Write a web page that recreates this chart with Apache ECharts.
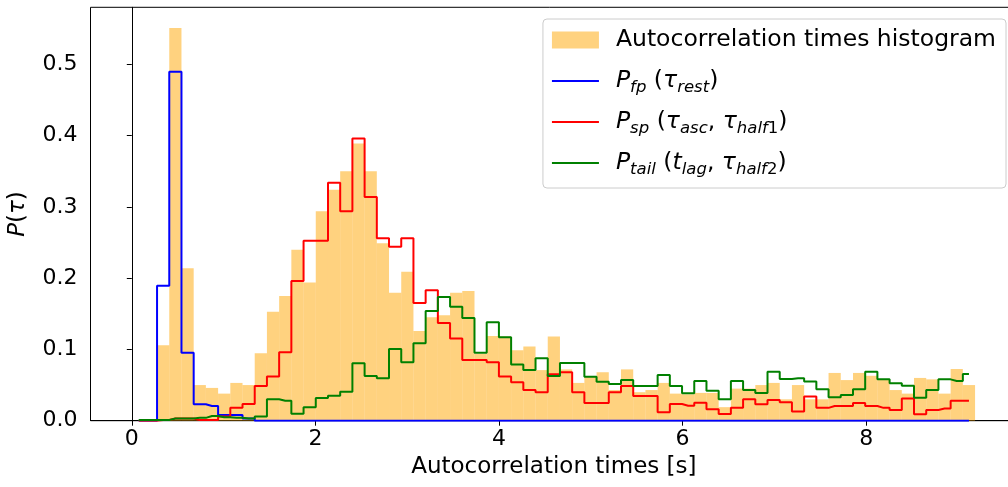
<!DOCTYPE html>
<html>
<head>
<meta charset="utf-8">
<script src="https://cdn.jsdelivr.net/npm/echarts@6/dist/echarts.min.js"></script>
<style>
html,body{margin:0;padding:0;background:#fff;}
#chart{width:1008px;height:487px;}
</style>
</head>
<body>
<div id="chart"></div>
<script>
// Histogram binning (bin edges = binStart + k*binWidth)
const binStart = 0.009;
const binWidth = 0.133;

// Autocorrelation times histogram (density per bin)
const histogram = [0, 0, 0.106, 0.551, 0.214, 0.050, 0.046, 0.038, 0.053, 0.050,
  0.0945, 0.153, 0.175, 0.240, 0.194, 0.294, 0.324, 0.350, 0.389, 0.350,
  0.249, 0.1795, 0.209, 0.126, 0.145, 0.148, 0.1795, 0.182, 0.094, 0.119,
  0.118, 0.099, 0.104, 0.071, 0.118, 0.072, 0.053, 0.062, 0.068, 0.043,
  0.072, 0.040, 0.043, 0.053, 0.038, 0.037, 0.039, 0.039, 0.019, 0.045,
  0.045, 0.050, 0.053, 0.030, 0.050, 0.030, 0.030, 0.067, 0.057, 0.067,
  0.063, 0.058, 0.043, 0.038, 0.060, 0.058, 0.038, 0.0725, 0.050];

// P_fp (tau_rest)
const pFp = [0, 0, 0.1894, 0.4895, 0.0954, 0.023, 0.0206, 0.008, 0.008, 0.003,
  0, 0, 0, 0, 0, 0, 0, 0, 0, 0,
  0, 0, 0, 0, 0, 0, 0, 0, 0, 0,
  0, 0, 0, 0, 0, 0, 0, 0, 0, 0,
  0, 0, 0, 0, 0, 0, 0, 0, 0, 0,
  0, 0, 0, 0, 0, 0, 0, 0, 0, 0,
  0, 0, 0, 0, 0, 0, 0, 0, 0];

// P_sp (tau_asc, tau_half1)
const pSp = [0, 0, 0.001, 0.003, 0.003, 0.001, 0.001, 0.006, 0.018, 0.0234,
  0.0487, 0.062, 0.096, 0.196, 0.2525, 0.2525, 0.334, 0.294, 0.396, 0.314,
  0.256, 0.244, 0.256, 0.165, 0.183, 0.137, 0.1155, 0.085, 0.085, 0.082,
  0.062, 0.054, 0.043, 0.040, 0.065, 0.068, 0.040, 0.025, 0.025, 0.040,
  0.0487, 0.0346, 0.0346, 0.012, 0.0234, 0.021, 0.0253, 0.016, 0.0094, 0.018,
  0.030, 0.023, 0.029, 0.026, 0.013, 0.034, 0.018, 0.0206, 0.0206, 0.025,
  0.0206, 0.018, 0.015, 0.031, 0.009, 0.015, 0.017, 0.028, 0.028];

// P_tail (t_lag, tau_half2)
const pTail = [0.001, 0.001, 0.001, 0.003, 0.003, 0.004, 0.0066, 0.0047, 0.004, 0.003,
  0.006, 0.030, 0.028, 0.0097, 0.019, 0.032, 0.035, 0.0407, 0.0805, 0.0627,
  0.0594, 0.1006, 0.082, 0.1085, 0.154, 0.1735, 0.160, 0.144, 0.0955, 0.138,
  0.117, 0.079, 0.071, 0.0875, 0.0627, 0.081, 0.081, 0.0617, 0.0547, 0.0515,
  0.057, 0.0487, 0.0487, 0.064, 0.0487, 0.0384, 0.0557, 0.042, 0.030, 0.0557,
  0.043, 0.039, 0.0687, 0.0585, 0.0595, 0.055, 0.044, 0.0328, 0.036, 0.044,
  0.0687, 0.058, 0.0524, 0.049, 0.0323, 0.043, 0.058, 0.0557, 0.0655];

const xTicks = [0, 2, 4, 6, 8];
const yTicks = [0, 0.1, 0.2, 0.3, 0.4, 0.5];

const xName = 'Autocorrelation times [s]';
const names = ['Autocorrelation times histogram', 'P_fp (τ_rest)', 'P_sp (τ_asc, τ_half1)', 'P_tail (t_lag, τ_half2)'];
const richLabels = {
  'Autocorrelation times histogram': 'Autocorrelation times histogram',
  'P_fp (τ_rest)': '{i|P}{s|fp} ({i|τ}{s|rest})',
  'P_sp (τ_asc, τ_half1)': '{i|P}{s|sp} ({i|τ}{s|asc}, {i|τ}{s|half}{n|1})',
  'P_tail (t_lag, τ_half2)': '{i|P}{s|tail} ({i|t}{s|lag}, {i|τ}{s|half}{n|2})'
};

const FONT = 'DejaVu Sans';
const histColor = 'rgba(255,165,0,0.5)';

const barData = histogram.map((v, k) => [binStart + k * binWidth, binStart + (k + 1) * binWidth, v]);
const stepData = arr => arr.map((v, k) => [binStart + (k + 0.5) * binWidth, v]);

const chart = echarts.init(document.getElementById('chart'), null, {renderer: 'canvas'});
chart.setOption({
  animation: false,
  backgroundColor: '#fff',
  grid: {left: 90.5, top: 7.3, width: 926.7, height: 413.4, show: true, borderColor: '#000', borderWidth: 1,
    backgroundColor: 'transparent', containLabel: false, outerBoundsMode: 'none'},
  xAxis: {
    type: 'value', min: -0.45, max: 9.645,
    name: xName, nameLocation: 'middle', nameGap: 35,
    nameTextStyle: {fontFamily: FONT, fontSize: 23, color: '#000'},
    axisLine: {show: true, lineStyle: {color: '#000', width: 1}},
    axisTick: {show: true, customValues: xTicks, length: 5, lineStyle: {color: '#000'}},
    axisLabel: {customValues: xTicks, fontFamily: FONT, fontSize: 22, color: '#000', margin: 8},
    splitLine: {show: false}
  },
  yAxis: {
    type: 'value', min: 0, max: 0.58,
    name: '{i|P}({i|τ})', nameLocation: 'middle', nameGap: 61, nameRotate: 90,
    nameTextStyle: {fontFamily: FONT, fontSize: 23, color: '#000',
      rich: {i: {fontFamily: FONT, fontSize: 23, fontStyle: 'italic', color: '#000'}}},
    axisLine: {show: true, lineStyle: {color: '#000', width: 1}},
    axisTick: {show: true, customValues: yTicks, length: 5, lineStyle: {color: '#000'}},
    axisLabel: {customValues: yTicks, fontFamily: FONT, fontSize: 22, color: '#000', margin: 13,
      formatter: v => v.toFixed(1)},
    splitLine: {show: false}
  },
  legend: {
    orient: 'vertical', right: 2, top: 19,
    padding: [6, 10, 10, 8], itemGap: 11,
    itemWidth: 47, itemHeight: 17,
    backgroundColor: 'rgba(255,255,255,0.8)', borderColor: '#cccccc', borderWidth: 1, borderRadius: 4,
    data: [
      {name: names[0], icon: 'rect'},
      {name: names[1], itemStyle: {opacity: 0}},
      {name: names[2], itemStyle: {opacity: 0}},
      {name: names[3], itemStyle: {opacity: 0}}
    ],
    formatter: n => richLabels[n],
    textStyle: {
      fontFamily: FONT, fontSize: 23.5, color: '#000', lineHeight: 30, padding: [0, 0, 0, 12],
      rich: {
        i: {fontFamily: FONT, fontSize: 23.5, fontStyle: 'italic', color: '#000', lineHeight: 30},
        s: {fontFamily: FONT, fontSize: 16.5, fontStyle: 'italic', color: '#000', lineHeight: 18, verticalAlign: 'bottom'},
        n: {fontFamily: FONT, fontSize: 16.5, color: '#000', lineHeight: 18, verticalAlign: 'bottom'}
      }
    }
  },
  series: [
    {
      name: names[0], type: 'custom', data: barData,
      encode: {x: [0, 1], y: 2},
      itemStyle: {color: histColor},
      renderItem: function (params, api) {
        const p0 = api.coord([api.value(0), api.value(2)]);
        const p1 = api.coord([api.value(1), 0]);
        return {type: 'rect', shape: {x: p0[0], y: p0[1], width: p1[0] - p0[0], height: p1[1] - p0[1]},
          style: {fill: histColor}};
      },
      z: 1
    },
    {name: names[1], type: 'line', step: 'middle', data: stepData(pFp), symbol: 'none',
      lineStyle: {color: '#0000ff', width: 2}, itemStyle: {color: '#0000ff'}, z: 2},
    {name: names[2], type: 'line', step: 'middle', data: stepData(pSp), symbol: 'none',
      lineStyle: {color: '#ff0000', width: 2}, itemStyle: {color: '#ff0000'}, z: 3},
    {name: names[3], type: 'line', step: 'middle', data: stepData(pTail), symbol: 'none',
      lineStyle: {color: '#008000', width: 2}, itemStyle: {color: '#008000'}, z: 4}
  ]
});
</script>
</body>
</html>
